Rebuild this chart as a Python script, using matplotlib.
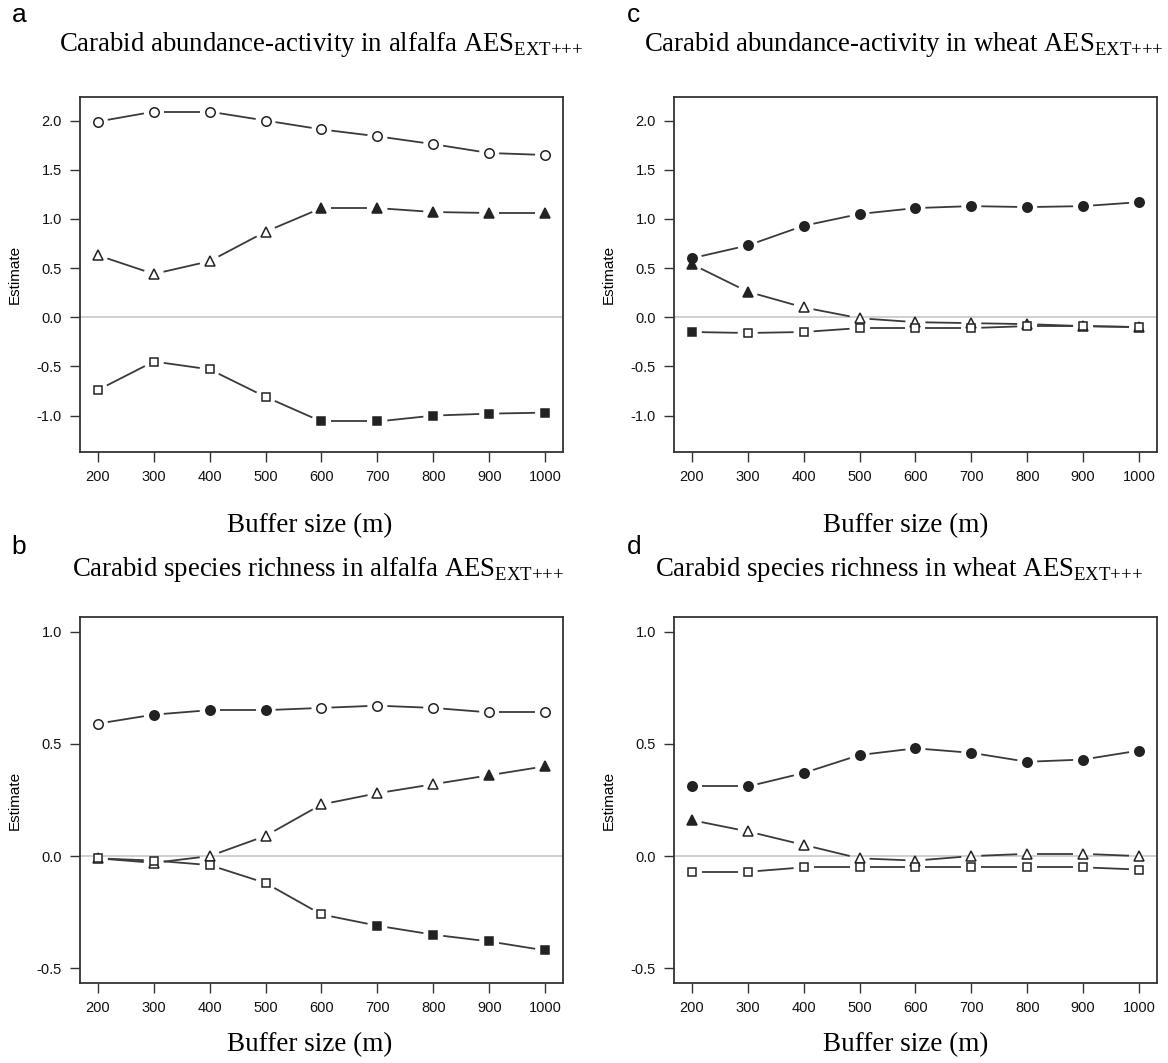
import matplotlib
matplotlib.use('Agg')
import matplotlib.pyplot as plt
import numpy as np

plt.rcParams['font.family'] = ['Liberation Sans', 'DejaVu Sans']
plt.rcParams['axes.unicode_minus'] = False
plt.rcParams['mathtext.fontset'] = 'custom'
plt.rcParams['mathtext.rm'] = 'Liberation Serif'

# --- data ---
buffer_m = [200, 300, 400, 500, 600, 700, 800, 900, 1000]

# a: abundance-activity, alfalfa
a_circle = [1.99, 2.09, 2.09, 2.00, 1.91, 1.84, 1.76, 1.67, 1.65]
a_triangle = [0.63, 0.44, 0.57, 0.87, 1.11, 1.11, 1.07, 1.06, 1.06]
a_square = [-0.74, -0.45, -0.53, -0.81, -1.06, -1.06, -1.00, -0.98, -0.97]
a_circle_sig = [0, 0, 0, 0, 0, 0, 0, 0, 0]
a_triangle_sig = [0, 0, 0, 0, 1, 1, 1, 1, 1]
a_square_sig = [0, 0, 0, 0, 1, 1, 1, 1, 1]

# b: species richness, alfalfa
b_circle = [0.59, 0.63, 0.65, 0.65, 0.66, 0.67, 0.66, 0.64, 0.64]
b_triangle = [-0.01, -0.03, 0.00, 0.09, 0.23, 0.28, 0.32, 0.36, 0.40]
b_square = [-0.01, -0.02, -0.04, -0.12, -0.26, -0.31, -0.35, -0.38, -0.42]
b_circle_sig = [0, 1, 1, 1, 0, 0, 0, 0, 0]
b_triangle_sig = [0, 0, 0, 0, 0, 0, 0, 1, 1]
b_square_sig = [0, 0, 0, 0, 0, 1, 1, 1, 1]

# c: abundance-activity, wheat
c_circle = [0.60, 0.73, 0.93, 1.05, 1.11, 1.13, 1.12, 1.13, 1.17]
c_triangle = [0.54, 0.26, 0.10, -0.01, -0.05, -0.06, -0.07, -0.09, -0.10]
c_square = [-0.15, -0.16, -0.15, -0.11, -0.11, -0.11, -0.09, -0.09, -0.10]
c_circle_sig = [1, 1, 1, 1, 1, 1, 1, 1, 1]
c_triangle_sig = [1, 1, 0, 0, 0, 0, 0, 0, 0]
c_square_sig = [1, 0, 0, 0, 0, 0, 0, 0, 0]

# d: species richness, wheat
d_circle = [0.31, 0.31, 0.37, 0.45, 0.48, 0.46, 0.42, 0.43, 0.47]
d_triangle = [0.16, 0.11, 0.05, -0.01, -0.02, 0.00, 0.01, 0.01, 0.00]
d_square = [-0.07, -0.07, -0.05, -0.05, -0.05, -0.05, -0.05, -0.05, -0.06]
d_circle_sig = [1, 1, 1, 1, 1, 1, 1, 1, 1]
d_triangle_sig = [1, 0, 0, 0, 0, 0, 0, 0, 0]
d_square_sig = [0, 0, 0, 0, 0, 0, 0, 0, 0]

sub = r'$_{\mathrm{EXT{+}{+}{+}}}$'
titles = {
    'a': 'Carabid abundance-activity in alfalfa AES' + sub,
    'b': 'Carabid species richness in alfalfa AES' + sub,
    'c': 'Carabid abundance-activity in wheat AES' + sub,
    'd': 'Carabid species richness in wheat AES' + sub,
}

LINE = '#3a3a3a'
EDGE = '#222222'
GAP = 10  # px gap between line end and marker centre (R type="b")


def draw_series(ax, x, y, sig, marker, ms):
    pts = ax.transData.transform(np.column_stack([x, y]))
    inv = ax.transData.inverted()
    for p0, p1 in zip(pts[:-1], pts[1:]):
        d = p1 - p0
        L = np.hypot(*d)
        if L <= 2 * GAP:
            continue
        u = d / L
        seg = inv.transform([p0 + u * GAP, p1 - u * GAP])
        ax.plot(seg[:, 0], seg[:, 1], color=LINE, lw=1.3,
                solid_capstyle='butt', zorder=2)
    for xi, yi, s in zip(x, y, sig):
        ax.plot(xi, yi, marker=marker, ms=ms, mec=EDGE, mew=1.1,
                mfc=EDGE if s else 'white', ls='none', zorder=3)


def setup(ax, ylim, yticks):
    ax.set_xlim(168, 1032)
    ax.set_ylim(*ylim)
    ax.set_xticks(buffer_m)
    ax.set_yticks(yticks)
    ax.set_yticklabels([f'{t:.1f}' for t in yticks])
    ax.axhline(0, color='#c8c8c8', lw=1.2, zorder=1)
    for sp in ax.spines.values():
        sp.set_color('#333333')
        sp.set_linewidth(1.3)
    ax.tick_params(direction='out', length=7, width=1, color='#333333',
                   labelsize=10.5, pad=6, labelcolor='#111111')
    ax.set_ylabel('Estimate', fontsize=11)
    ax.yaxis.set_label_coords(-0.12, 0.5)


fig = plt.figure(figsize=(11.68, 10.63), dpi=100)

panels = [
    ('a', [0.0685, 0.5748, 0.4135, 0.334], (-1.37, 2.24),
     [-1.0, -0.5, 0.0, 0.5, 1.0, 1.5, 2.0], 0.275,
     (a_circle, a_circle_sig), (a_triangle, a_triangle_sig), (a_square, a_square_sig)),
    ('c', [0.577, 0.5748, 0.4135, 0.334], (-1.37, 2.24),
     [-1.0, -0.5, 0.0, 0.5, 1.0, 1.5, 2.0], 0.774,
     (c_circle, c_circle_sig), (c_triangle, c_triangle_sig), (c_square, c_square_sig)),
    ('b', [0.0685, 0.0753, 0.4135, 0.3443], (-0.565, 1.065),
     [-0.5, 0.0, 0.5, 1.0], 0.272,
     (b_circle, b_circle_sig), (b_triangle, b_triangle_sig), (b_square, b_square_sig)),
    ('d', [0.577, 0.0753, 0.4135, 0.3443], (-0.565, 1.065),
     [-0.5, 0.0, 0.5, 1.0], 0.770,
     (d_circle, d_circle_sig), (d_triangle, d_triangle_sig), (d_square, d_square_sig)),
]

for key, pos, ylim, yticks, tx, circ, tri, sq in panels:
    ax = fig.add_axes(pos)
    setup(ax, ylim, yticks)
    draw_series(ax, buffer_m, circ[0], circ[1], 'o', 6.8)
    draw_series(ax, buffer_m, tri[0], tri[1], '^', 7.4)
    draw_series(ax, buffer_m, sq[0], sq[1], 's', 6.0)

    left = pos[0] < 0.5
    top = pos[1] > 0.5
    cx = 0.265 if left else 0.775
    fig.text(0.010 if left else 0.537, (0.997 if top else 0.497), key,
             fontsize=19, va='top', ha='left')
    fig.text(tx, 0.952 if top else 0.458, titles[key], family='Liberation Serif',
             fontsize=19.3, ha='center', va='baseline')
    fig.text(cx, 0.506 if top else 0.017, 'Buffer size (m)',
             family='Liberation Serif', fontsize=19.5, ha='center', va='center')

fig.savefig('out.png', dpi=100)
